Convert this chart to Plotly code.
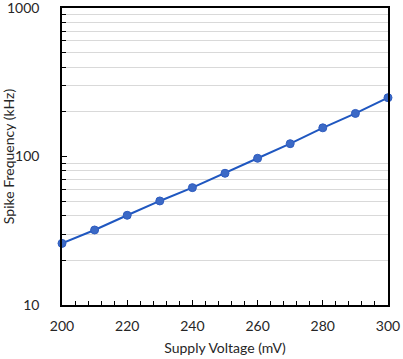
import plotly.graph_objects as go

spannung = [200, 210, 220, 230, 240, 250, 260, 270, 280, 290, 300]
frequenz = [26.0, 32.0, 40.2, 50.2, 61.7, 77.1, 97.3, 122, 156, 195, 249]

y_haupt = [10, 100, 1000]
y_neben = [20, 30, 40, 50, 60, 70, 80, 90, 200, 300, 400, 500, 600, 700, 800, 900]
x_ticks = [200, 220, 240, 260, 280, 300]

schrift = dict(family="Lato, Open Sans, sans-serif", size=14, color="#262626")

fig = go.Figure()
fig.add_scatter(
    x=spannung, y=frequenz, mode="lines+markers",
    line=dict(color="#1f57c0", width=2),
    marker=dict(color="#3b69c6", size=8, line=dict(color="#2f5cbf", width=1)),
    cliponaxis=False, showlegend=False,
)

fig.update_xaxes(
    range=[200, 300], tickvals=x_ticks,
    ticks="inside", ticklen=5, tickwidth=1, tickcolor="black",
    minor=dict(dtick=4, tick0=200, ticks="inside", ticklen=4, tickcolor="black", showgrid=False),
    showgrid=False, zeroline=False, automargin=False, ticklabelstandoff=7,
    showline=True, linecolor="black", linewidth=1.5, mirror=True,
    title=dict(text="Supply Voltage (mV)", font=schrift, standoff=11),
    tickfont=schrift,
)
fig.update_yaxes(
    type="log", range=[1, 3.00002], tickvals=y_haupt, ticktext=[str(v) for v in y_haupt],
    ticks="inside", ticklen=5, tickwidth=1, tickcolor="black",
    minor=dict(tickmode="array", tickvals=y_neben, ticks="inside", ticklen=4,
               tickcolor="black", showgrid=True, gridcolor="#d9d9d9", gridwidth=1),
    showgrid=False, zeroline=False, automargin=False, ticklabelstandoff=18,
    ticklabeloverflow="allow",
    showline=True, linecolor="black", linewidth=1.5, mirror=True,
    title=dict(text="Spike Frequency (kHz)", font=schrift, standoff=1),
    tickfont=schrift,
)

fig.update_layout(
    width=403, height=359,
    margin=dict(l=62, r=15, t=8, b=54, autoexpand=False),
    plot_bgcolor="white", paper_bgcolor="white",
    font=schrift,
)

# Seitenrand des Browsers entfernen, damit die Grafik bei (0,0) sitzt
fig.write_html("out.html", config={"displayModeBar": False},
               post_script="document.body.style.margin='0px';")
